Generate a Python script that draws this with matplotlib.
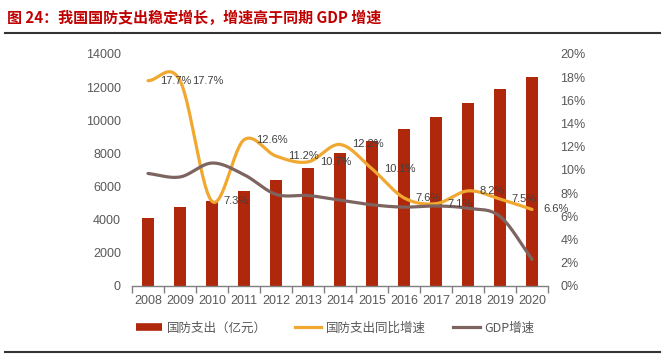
import numpy as np
import matplotlib
matplotlib.use("Agg")
import matplotlib.pyplot as plt
from matplotlib.lines import Line2D
from matplotlib.ticker import FixedLocator, FuncFormatter

plt.rcParams['font.family'] = ['Liberation Sans', 'Noto Sans CJK SC', 'DejaVu Sans']

years = ['2008', '2009', '2010', '2011', '2012', '2013', '2014', '2015',
         '2016', '2017', '2018', '2019', '2020']
spending = [4100, 4770, 5110, 5740, 6390, 7120, 8030, 8780, 9500, 10170, 11020, 11870, 12620]
spend_growth = [17.7, 17.7, 7.3, 12.6, 11.2, 10.7, 12.2, 10.1, 7.6, 7.1, 8.2, 7.5, 6.6]
gdp_growth = [9.7, 9.4, 10.6, 9.6, 7.9, 7.8, 7.4, 7.0, 6.8, 6.9, 6.7, 6.0, 2.3]

title = '图 24：我国国防支出稳定增长，增速高于同期 GDP 增速'
legend_labels = ['国防支出（亿元）', '国防支出同比增速', 'GDP增速']

C_BAR = '#B0280C'
C_ORANGE = '#F0A830'
C_BROWN = '#7D6460'
C_TXT = '#595959'


def smooth(xs, ys, n=30):
    xs = np.asarray(xs, float)
    ys = np.asarray(ys, float)
    m = np.zeros_like(ys)
    m[1:-1] = (ys[2:] - ys[:-2]) / 2.0
    m[0] = ys[1] - ys[0]
    m[-1] = ys[-1] - ys[-2]
    m[0] *= 0.5 if ys[0] == ys[1] else 1.0
    ox, oy = [], []
    for i in range(len(xs) - 1):
        t = np.linspace(0, 1, n, endpoint=(i == len(xs) - 2))
        h00 = 2 * t**3 - 3 * t**2 + 1
        h10 = t**3 - 2 * t**2 + t
        h01 = -2 * t**3 + 3 * t**2
        h11 = t**3 - t**2
        ox.append(xs[i] + t * (xs[i + 1] - xs[i]))
        oy.append(h00 * ys[i] + h10 * m[i] + h01 * ys[i + 1] + h11 * m[i + 1])
    return np.concatenate(ox), np.concatenate(oy)


fig = plt.figure(figsize=(6.64, 3.55), dpi=100)
fig.patch.set_facecolor('white')
ax = fig.add_axes([132 / 664, 1 - 286 / 355, (548 - 132) / 664, (286 - 54) / 355])
ax2 = ax.twinx()

x = np.arange(len(years))
ax.bar(x, spending, width=0.4, color=C_BAR, zorder=2)
ax.set_xlim(-0.5, len(years) - 0.5)
ax.set_ylim(0, 14000)
ax.set_yticks(np.arange(0, 14001, 2000))

ax.xaxis.set_major_locator(FixedLocator(np.arange(-0.5, len(years), 1.0)))
ax.xaxis.set_minor_locator(FixedLocator(x))
ax.xaxis.set_major_formatter(FuncFormatter(lambda v, p: ''))
ax.set_xticklabels(years, minor=True)
ax.tick_params(axis='x', which='major', length=5, width=1, color='#808080', direction='out')
ax.tick_params(axis='x', which='minor', length=0, pad=6.5, labelsize=9, labelcolor=C_TXT)
ax.tick_params(axis='y', length=0, pad=8, labelsize=9, labelcolor=C_TXT)

for a in (ax, ax2):
    for s in ('top', 'left', 'right'):
        a.spines[s].set_visible(False)
ax2.spines['bottom'].set_visible(False)
ax.spines['bottom'].set_color('#808080')
ax.spines['bottom'].set_linewidth(1)

ax2.set_ylim(0, 20)
ax2.set_yticks(np.arange(0, 21, 2))
ax2.yaxis.set_major_formatter(FuncFormatter(lambda v, p: f'{int(round(v))}%'))
ax2.tick_params(axis='y', length=0, pad=9, labelsize=9, labelcolor=C_TXT)

sx, sy = smooth(x, spend_growth)
ax2.plot(sx, sy, color=C_ORANGE, lw=2.3, solid_capstyle='round', zorder=3)
gx, gy = smooth(x, gdp_growth)
ax2.plot(gx, gy, color=C_BROWN, lw=2.3, solid_capstyle='round', zorder=3)

for xi, v in zip(x, spend_growth):
    ax2.annotate(f'{v:.1f}%', (xi, v), xytext=(8.5, 0), textcoords='offset points',
                 ha='left', va='center', fontsize=8, color='#404040', zorder=4)

fig.text(7 / 664, 1 - 18 / 355, title, fontsize=10.8, fontweight='bold', color='#C00000',
         ha='left', va='center', family=['Noto Sans CJK SC', 'DejaVu Sans'])
fig.add_artist(Line2D([5 / 664, 660 / 664], [1 - 33 / 355] * 2, color='#333333', lw=1.5))
fig.add_artist(Line2D([5 / 664, 660 / 664], [1 - 352 / 355] * 2, color='#333333', lw=1.5))

handles = [Line2D([], [], color=C_BAR, lw=5.5, solid_capstyle='butt'),
           Line2D([], [], color=C_ORANGE, lw=2.3),
           Line2D([], [], color=C_BROWN, lw=2.3)]
leg = fig.legend(handles, legend_labels, loc='center', bbox_to_anchor=(0.505, 1 - 328 / 355),
                 ncol=3, frameon=False, handlelength=2.1, handletextpad=0.4, columnspacing=2.2,
                 prop={'family': ['Noto Sans CJK SC', 'DejaVu Sans'], 'size': 9})
for t in leg.get_texts():
    t.set_color(C_TXT)

fig.savefig('out.png', dpi=100, facecolor='white')
